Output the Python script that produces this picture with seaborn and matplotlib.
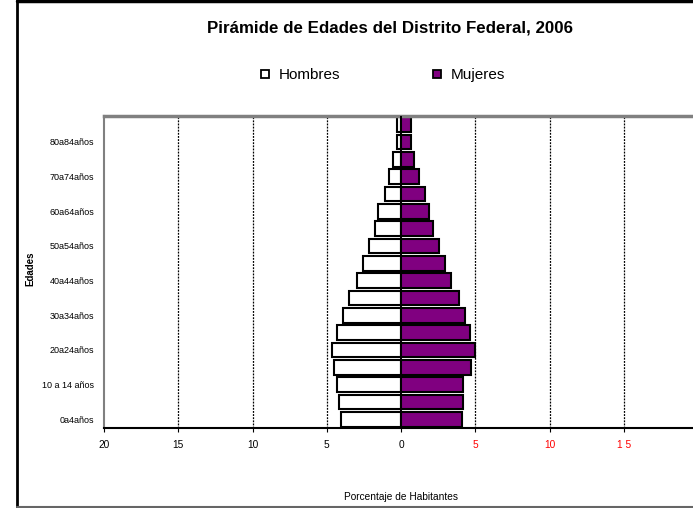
import matplotlib
matplotlib.use("Agg")
import matplotlib.pyplot as plt
from matplotlib.lines import Line2D
import numpy as np
import pandas as pd
import seaborn as sns

# age groups, bottom to top
edades = ["0a4años", "5a9años", "10 a 14 años", "15a19años", "20a24años", "25a29años",
          "30a34años", "35a39años", "40a44años", "45a49años", "50a54años", "55a59años",
          "60a64años", "65a69años", "70a74años", "75a79años", "80a84años", "85ymás"]
hombres = [4.07, 4.20, 4.34, 4.50, 4.63, 4.34, 3.93, 3.53, 2.99, 2.58, 2.17, 1.77,
           1.52, 1.09, 0.82, 0.55, 0.28, 0.28]
mujeres = [4.09, 4.18, 4.18, 4.74, 5.00, 4.63, 4.34, 3.93, 3.39, 2.99, 2.55, 2.17,
           1.88, 1.60, 1.20, 0.85, 0.66, 0.66]
xticks = [-20, -15, -10, -5, 0, 5, 10, 15]
xticklabels = ["20", "15", "10", "5", "0", "5", "10", "1 5"]

sns.set_theme(style="white")
plt.rcParams["font.family"] = ["Liberation Sans", "DejaVu Sans"]
plt.rcParams["text.color"] = "black"
plt.rcParams["axes.labelcolor"] = "black"
plt.rcParams["xtick.color"] = "black"
plt.rcParams["ytick.color"] = "black"

df = pd.DataFrame({"edad": edades, "hombres": hombres, "mujeres": mujeres})
df["hombres_neg"] = -df["hombres"]
orden = edades[::-1]

fig = plt.figure(figsize=(6.93, 5.08), dpi=100)
ax = fig.add_axes([104 / 693, 1 - 428 / 508, 594 / 693, 312 / 508])

sns.barplot(data=df, x="hombres_neg", y="edad", order=orden, color="white", saturation=1,
            edgecolor="black", linewidth=1.5, width=0.85, ax=ax, orient="h")
sns.barplot(data=df, x="mujeres", y="edad", order=orden, color="#800080", saturation=1,
            edgecolor="black", linewidth=1.5, width=0.85, ax=ax, orient="h")
for p in ax.patches:
    if p.get_width() < 0:
        p.set_facecolor("white")

ax.set_xlim(-20, 20)
ax.set_ylim(len(edades) - 0.5, -0.5)

for x in [-15, -10, -5, 5, 10, 15]:
    ax.axvline(x, color="black", lw=0.9, ls=(0, (1.5, 1)), zorder=0)
ax.axvline(0, color="black", lw=1.4, zorder=3)

ax.set_xticks(xticks)
ax.set_xticklabels(xticklabels, fontsize=7.3)
for lab, v in zip(ax.get_xticklabels(), xticks):
    lab.set_color("red" if v > 0 else "black")
ax.tick_params(axis="x", length=3, width=0.8, pad=6, bottom=True, color="black")

pos = list(range(len(orden)))
ax.set_yticks(pos)
ax.set_yticklabels([lab if (len(orden) - 1 - i) % 2 == 0 else "" for i, lab in enumerate(orden)],
                   fontsize=6.5)
ax.tick_params(axis="y", length=0, pad=7)

ax.spines["top"].set_color("#808080")
ax.spines["top"].set_linewidth(2.5)
ax.spines["left"].set_color("#808080")
ax.spines["left"].set_linewidth(1.5)
ax.spines["bottom"].set_color("black")
ax.spines["bottom"].set_linewidth(1.5)
ax.spines["right"].set_visible(False)

ax.set_xlabel("Porcentaje de Habitantes", fontsize=7.3)
ax.xaxis.set_label_coords(0.5, -0.205)
ax.set_ylabel("Edades", fontsize=7, fontweight="bold")
ax.yaxis.set_label_coords(-0.115, 0.51)

fig.text(390 / 693, 1 - 28 / 508, "Pirámide de Edades del Distrito Federal, 2006",
         ha="center", va="center", fontsize=12.2, fontweight="bold")

handles = [
    Line2D([], [], marker="s", ls="", markersize=6, markerfacecolor="white",
           markeredgecolor="black", markeredgewidth=1.3),
    Line2D([], [], marker="s", ls="", markersize=6, markerfacecolor="#800080",
           markeredgecolor="black", markeredgewidth=1.3),
]
fig.legend(handles, ["Hombres", "Mujeres"], loc="center", bbox_to_anchor=(382 / 693, 1 - 75 / 508),
           ncol=2, frameon=False, fontsize=11, handlelength=0.8, handletextpad=0.5,
           columnspacing=5.9)

# chart area border
fig.add_artist(Line2D([17 / 693, 17 / 693], [1 - 507 / 508, 1.0], color="black", lw=2,
                      transform=fig.transFigure))
fig.add_artist(Line2D([17 / 693, 1.0], [1 - 1 / 508, 1 - 1 / 508], color="black", lw=2.5,
                      transform=fig.transFigure))
fig.add_artist(Line2D([17 / 693, 1.0], [1 - 507 / 508, 1 - 507 / 508], color="#666666", lw=1.5,
                      transform=fig.transFigure))

fig.savefig("out.png", dpi=100)
